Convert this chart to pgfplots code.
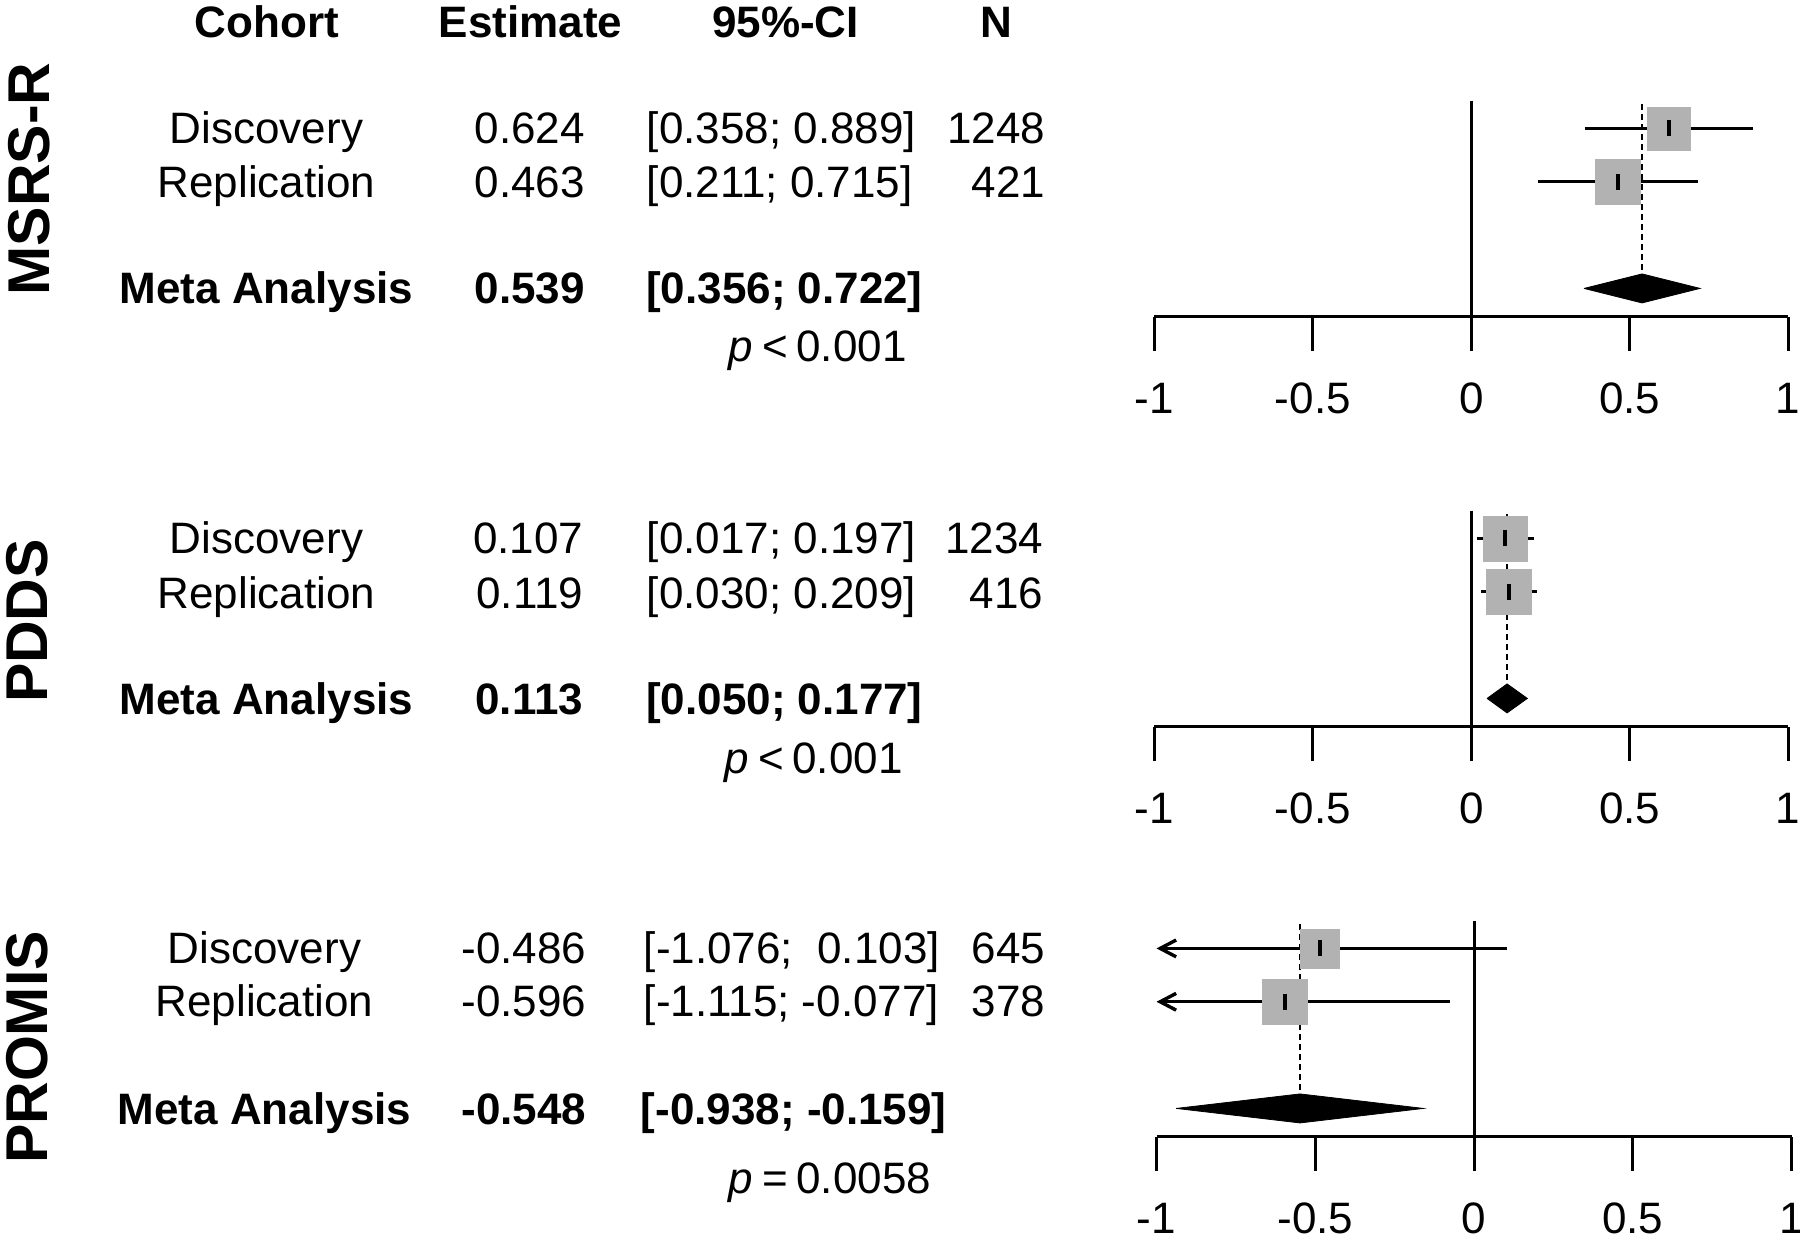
\documentclass[border=0pt]{standalone}
\usepackage{fontspec}
\setmainfont{Liberation Sans}
\usepackage{pgfplots}
\pgfplotsset{compat=1.18}
\usetikzlibrary{arrows.meta}
\definecolor{sqgray}{gray}{0.70}

\pgfplotsset{
  forestax/.style={
    scale only axis,
    height=54pt,
    xmin=-1, xmax=1, ymin=-4.53, ymax=-0.48,
    axis x line=bottom, axis y line=none,
    axis line style={-, line width=0.75pt, black},
    xtick={-1,-0.5,0,0.5,1},
    xticklabels={-1,-0.5,0,0.5,1},
    tick align=outside,
    major tick length=8.6pt,
    major tick style={line width=0.75pt, black},
    xticklabel style={font=\fontsize{11}{13}\selectfont, anchor=base, inner sep=0pt, yshift=-15.6pt},
    clip=false,
  },
  sq/.style={only marks, mark=square*, mark size=#1, mark options={draw=sqgray, fill=sqgray, line width=0.1pt}},
  ci/.style={line width=0.85pt, black},
  est/.style={only marks, mark=|, mark size=2pt, mark options={line width=0.9pt, black}},
  dsh/.style={line width=0.6pt, black, dash pattern=on 1.4pt off 1.1pt},
  diam/.style={fill=black, draw=black, line width=0.2pt},
  zer/.style={line width=0.75pt, black},
}
\tikzset{
  txt/.style={inner sep=0pt, font=\fontsize{11}{13}\selectfont},
  btxt/.style={inner sep=0pt, font=\fontsize{11}{13}\selectfont\bfseries},
  grp/.style={inner sep=0pt, rotate=90, font=\fontsize{14.75}{16}\selectfont\bfseries},
}

\begin{document}
\begin{tikzpicture}[x=0.25pt, y=-0.25pt]
\useasboundingbox (0,0) rectangle (1800,1238);
\coordinate (A1) at (1154.4,316.7);
\coordinate (A2) at (1154.4,726.7);
\coordinate (A3) at (1156.5,1136.7);

% ---------- headers ----------
\node[btxt, anchor=base] at (267,37.3) {Cohort};
\node[btxt, anchor=base] at (530.5,37.3) {Estimate};
\node[btxt, anchor=base] at (785.5,37.3) {95\%-CI};
\node[btxt, anchor=base] at (996.7,37.3) {N};

% ---------- group labels ----------
\node[grp] at (28.7,179) {MSRS-R};
\node[grp] at (27.5,621) {PDDS};
\node[grp] at (26.7,1047.5) {PROMIS};

% ---------- panel 1 text ----------
\node[txt, anchor=base] at (266.5,144) {Discovery};
\node[txt, anchor=base east] at (585.5,144) {0.624};
\node[txt, anchor=base west] at (646,144) {[0.358; 0.889]};
\node[txt, anchor=base east] at (1046,144) {1248};
\node[txt, anchor=base] at (266.5,197.3) {Replication};
\node[txt, anchor=base east] at (585.5,197.3) {0.463};
\node[txt, anchor=base west] at (646,197.3) {[0.211; 0.715]};
\node[txt, anchor=base east] at (1046,197.3) {421};
\node[btxt, anchor=base] at (266.5,304) {Meta Analysis};
\node[btxt, anchor=base east] at (585.5,304) {0.539};
\node[btxt, anchor=base west] at (645.5,304) {[0.356; 0.722]};
\node[txt, anchor=base west] at (728,361.7) {\textit{p}\hspace{0.2em}<\hspace{0.2em}0.001};

% ---------- panel 2 text ----------
\node[txt, anchor=base] at (266.5,554) {Discovery};
\node[txt, anchor=base east] at (584,554) {0.107};
\node[txt, anchor=base west] at (646,554) {[0.017; 0.197]};
\node[txt, anchor=base east] at (1044,554) {1234};
\node[txt, anchor=base] at (266.5,608.3) {Replication};
\node[txt, anchor=base east] at (584,608.3) {0.119};
\node[txt, anchor=base west] at (646,608.3) {[0.030; 0.209]};
\node[txt, anchor=base east] at (1044,608.3) {416};
\node[btxt, anchor=base] at (266.5,715) {Meta Analysis};
\node[btxt, anchor=base east] at (584,715) {0.113};
\node[btxt, anchor=base west] at (645.5,715) {[0.050; 0.177]};
\node[txt, anchor=base west] at (724,773.3) {\textit{p}\hspace{0.2em}<\hspace{0.2em}0.001};

% ---------- panel 3 text ----------
\node[txt, anchor=base] at (264.5,963.3) {Discovery};
\node[txt, anchor=base east] at (587,963.3) {-0.486};
\node[txt, anchor=base west] at (643,963.3) {[-1.076;\ \ 0.103]};
\node[txt, anchor=base east] at (1046,963.3) {645};
\node[txt, anchor=base] at (264.5,1016.7) {Replication};
\node[txt, anchor=base east] at (587,1016.7) {-0.596};
\node[txt, anchor=base west] at (643,1016.7) {[-1.115; -0.077]};
\node[txt, anchor=base east] at (1046,1016.7) {378};
\node[btxt, anchor=base] at (264.5,1125) {Meta Analysis};
\node[btxt, anchor=base east] at (587,1125) {-0.548};
\node[btxt, anchor=base west] at (640,1125) {[-0.938; -0.159]};
\node[txt, anchor=base west] at (728,1193.3) {\textit{p}\hspace{0.2em}=\hspace{0.2em}0.0058};

% ---------- panel 1 plot (MSRS-R) ----------
\begin{axis}[forestax, width=158.43pt, at={(A1)}, anchor=south west]
\addplot[zer] coordinates {(0,-0.48) (0,-4.53)};
\addplot[dsh] coordinates {(0.539,-0.55) (0.539,-3.728)};
\addplot[sq=5.34pt] coordinates {(0.624,-1)};
\addplot[sq=5.66pt] coordinates {(0.463,-2)};
\addplot[ci] coordinates {(0.358,-1) (0.889,-1)};
\addplot[ci] coordinates {(0.211,-2) (0.715,-2)};
\addplot[est] coordinates {(0.624,-1) (0.463,-2)};
\addplot[diam] coordinates {(0.356,-4) (0.539,-3.728) (0.722,-4) (0.539,-4.272) (0.356,-4)};
\end{axis}

% ---------- panel 2 plot (PDDS) ----------
\begin{axis}[forestax, width=158.43pt, at={(A2)}, anchor=south west]
\addplot[zer] coordinates {(0,-0.48) (0,-4.53)};
\addplot[dsh] coordinates {(0.113,-0.55) (0.113,-3.728)};
\addplot[sq=5.6pt] coordinates {(0.107,-1)};
\addplot[sq=5.65pt] coordinates {(0.119,-2)};
\addplot[ci] coordinates {(0.017,-1) (0.197,-1)};
\addplot[ci] coordinates {(0.030,-2) (0.209,-2)};
\addplot[est] coordinates {(0.107,-1) (0.119,-2)};
\addplot[diam] coordinates {(0.050,-4) (0.113,-3.728) (0.177,-4) (0.113,-4.272) (0.050,-4)};
\end{axis}

% ---------- panel 3 plot (PROMIS) ----------
\begin{axis}[forestax, width=158.75pt, at={(A3)}, anchor=south west]
\addplot[zer] coordinates {(0,-0.48) (0,-4.53)};
\addplot[dsh] coordinates {(-0.548,-0.55) (-0.548,-3.728)};
\addplot[sq=4.85pt] coordinates {(-0.486,-1)};
\addplot[sq=5.6pt] coordinates {(-0.596,-2)};
\addplot[ci, -{Straight Barb[length=4pt, width=4.2pt]}] coordinates {(0.103,-1) (-1,-1)};
\addplot[ci, -{Straight Barb[length=4pt, width=4.2pt]}] coordinates {(-0.077,-2) (-1,-2)};
\addplot[est] coordinates {(-0.486,-1) (-0.596,-2)};
\addplot[diam] coordinates {(-0.938,-4) (-0.548,-3.728) (-0.159,-4) (-0.548,-4.272) (-0.938,-4)};
\end{axis}
\end{tikzpicture}
\end{document}
